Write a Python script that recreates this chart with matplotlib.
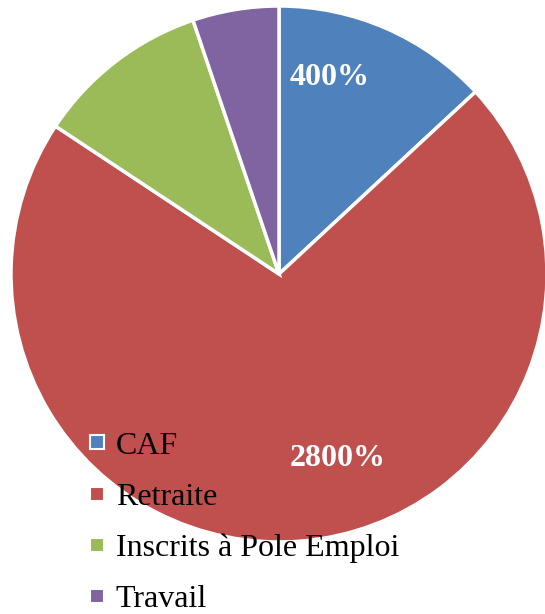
import matplotlib.pyplot as plt
from matplotlib.lines import Line2D

# -------- Data --------
categories = ["CAF", "Retraite", "Inscrits à Pole Emploi", "Travail"]
shares = [13.1, 71.2, 10.5, 5.2]          # slice sizes
value_labels = ["400%", "2800%"]         # data labels as printed on the chart
colors = ["#4F81BD", "#C0504D", "#9BBB59", "#8064A2"]

plt.rcParams["font.family"] = ["Liberation Serif", "DejaVu Serif"]

fig = plt.figure(figsize=(5.45, 6.14), dpi=100)
# pie centre ~ (279, 274) px, radius ~ 268 px
r = 268
ax = fig.add_axes([(279 - r) / 545, (614 - 274 - r) / 614, 2 * r / 545, 2 * r / 614])

wedges, _ = ax.pie(shares, colors=colors, startangle=90, counterclock=False,
                   radius=1, wedgeprops=dict(edgecolor="white", linewidth=2.5))
ax.set_xlim(-1, 1)
ax.set_ylim(-1, 1)
ax.set_aspect("equal")
ax.axis("off")

# data labels
ax.text(0.19, 0.735, value_labels[0], color="white", fontsize=23,
        fontweight="bold", ha="center", va="center")
ax.text(0.22, -0.687, value_labels[1], color="white", fontsize=23,
        fontweight="bold", ha="center", va="center")

# legend
handles = [Line2D([], [], marker="s", linestyle="none", markersize=10.5,
                  markerfacecolor=c, markeredgecolor="white", markeredgewidth=1.5)
           for c in colors]
fig.legend(handles, categories, loc="lower left", bbox_to_anchor=(87 / 545, 0.0),
           frameon=False, fontsize=23, handlelength=0.6, handletextpad=0.3,
           labelspacing=0.68, borderpad=0.0, borderaxespad=0.0)

fig.savefig("out.png", dpi=100)
